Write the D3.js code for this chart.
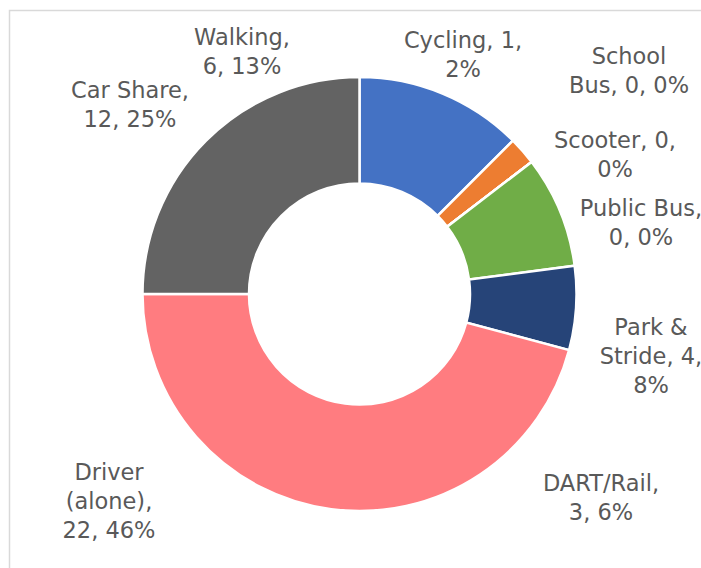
<!DOCTYPE html>
<html>
<head>
<meta charset="utf-8">
<script src="https://cdn.jsdelivr.net/npm/d3@7"></script>
<style>
  html, body { margin: 0; padding: 0; background: #fff; }
  svg { display: block; }
</style>
</head>
<body>
<svg id="chart" width="701" height="568"></svg>
<script>
// ---- data ----
const categories = ["Walking", "Cycling", "School Bus", "Scooter", "Public Bus",
                    "Park & Stride", "DART/Rail", "Driver (alone)", "Car Share"];
const values = [6, 1, 0, 0, 0, 4, 3, 22, 12];
// words per line for each data label
const labelWrap = [[1, 2], [2, 1], [1, 3], [2, 1], [2, 2], [2, 2, 1], [1, 2], [1, 1, 2], [2, 2]];

// ---- layout / style ----
const colors = ["#4472C4", "#ED7D31", "#A5A5A5", "#FFC000", "#5B9BD5",
                "#70AD47", "#264478", "#FF7C80", "#636363"];
// label anchor: [center x, first baseline y]
const labelPos = [[242, 45], [463, 48], [629, 64], [615, 148], [641, 216],
                  [651, 335], [601, 491], [109, 480], [130, 98]];
const lineH = 29;
const cx = 359.5, cy = 294, rOuter = 217, rInner = 110.5;

const svg = d3.select("#chart");

// chart border
svg.append("rect")
  .attr("x", 9.5).attr("y", 10.5)
  .attr("width", 720).attr("height", 600)
  .attr("fill", "none").attr("stroke", "#D9D9D9").attr("stroke-width", 1.5);

const total = d3.sum(values);
const data = categories.map((c, i) => ({ cat: c, value: values[i], i }));

const pie = d3.pie().sort(null).value(d => d.value);
const arc = d3.arc().innerRadius(rInner).outerRadius(rOuter);

const g = svg.append("g").attr("transform", `translate(${cx},${cy})`);
g.selectAll("path")
  .data(pie(data))
  .join("path")
  .attr("d", arc)
  .attr("fill", d => colors[d.data.i])
  .attr("stroke", "#fff")
  .attr("stroke-width", 2.5)
  .attr("stroke-linejoin", "miter");

// labels
const labels = svg.append("g")
  .attr("font-family", "'DejaVu Sans', sans-serif")
  .attr("font-size", 22.5)
  .attr("fill", "#595959")
  .attr("text-anchor", "middle");

data.forEach((d, i) => {
  const pct = Math.round(d.value / total * 100);
  const words = `${d.cat}, ${d.value}, ${pct}%`.split(" ");
  const lines = [];
  let k = 0;
  labelWrap[i].forEach(n => { lines.push(words.slice(k, k + n).join(" ")); k += n; });
  const t = labels.append("text");
  lines.forEach((ln, j) => {
    t.append("tspan")
      .attr("x", labelPos[i][0])
      .attr("y", labelPos[i][1] + j * lineH)
      .text(ln);
  });
});
</script>
</body>
</html>
